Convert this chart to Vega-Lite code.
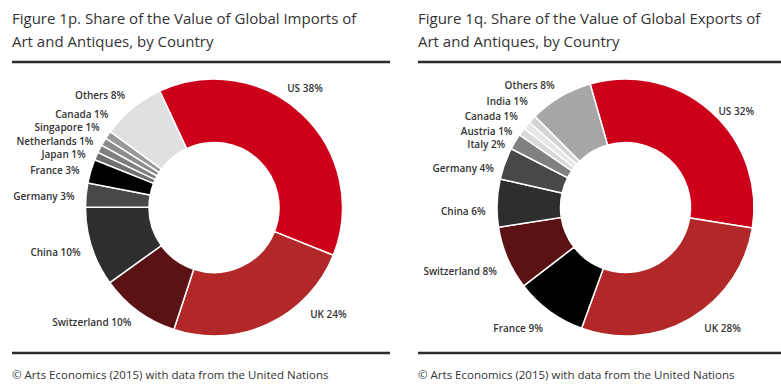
{
  "$schema": "https://vega.github.io/schema/vega-lite/v6.json",
  "padding": {"left": 10, "top": 10, "right": 0, "bottom": 0},
  "spacing": 24,
  "datasets": {
    "imports": [
      {"rank": 1, "country": "US", "share": 38, "label": "US 38%"},
      {"rank": 2, "country": "UK", "share": 24, "label": "UK 24%"},
      {"rank": 3, "country": "Switzerland", "share": 10, "label": "Switzerland 10%"},
      {"rank": 4, "country": "China", "share": 10, "label": "China 10%"},
      {"rank": 5, "country": "Germany", "share": 3, "label": "Germany 3%"},
      {"rank": 6, "country": "France", "share": 3, "label": "France 3%"},
      {"rank": 7, "country": "Japan", "share": 1, "label": "Japan 1%"},
      {"rank": 8, "country": "Netherlands", "share": 1, "label": "Netherlands 1%"},
      {"rank": 9, "country": "Singapore", "share": 1, "label": "Singapore 1%"},
      {"rank": 10, "country": "Canada", "share": 1, "label": "Canada 1%"},
      {"rank": 11, "country": "Others", "share": 8, "label": "Others 8%"}
    ],
    "exports": [
      {"rank": 1, "country": "US", "share": 32, "label": "US 32%"},
      {"rank": 2, "country": "UK", "share": 28, "label": "UK 28%"},
      {"rank": 3, "country": "France", "share": 9, "label": "France 9%"},
      {"rank": 4, "country": "Switzerland", "share": 8, "label": "Switzerland 8%"},
      {"rank": 5, "country": "China", "share": 6, "label": "China 6%"},
      {"rank": 6, "country": "Germany", "share": 4, "label": "Germany 4%"},
      {"rank": 7, "country": "Italy", "share": 2, "label": "Italy 2%"},
      {"rank": 8, "country": "Austria", "share": 1, "label": "Austria 1%"},
      {"rank": 9, "country": "Canada", "share": 1, "label": "Canada 1%"},
      {"rank": 10, "country": "India", "share": 1, "label": "India 1%"},
      {"rank": 11, "country": "Others", "share": 8, "label": "Others 8%"}
    ]
  },
  "resolve": {"scale": {"color": "independent", "theta": "independent"}},
  "hconcat": [
    {
      "title": {"text": "© Arts Economics (2015) with data from the United Nations", "orient": "bottom", "anchor": "start", "frame": "group", "fontSize": 11.5, "fontWeight": "normal", "color": "#333", "offset": 16},
      "vconcat": [
        {
          "title": {"text": ["Figure 1p. Share of the Value of Global Imports of", "Art and Antiques, by Country"], "anchor": "start", "frame": "group", "fontSize": 15, "fontWeight": "normal", "color": "#333", "lineHeight": 23, "offset": 12},
          "width": 378,
          "height": 291,
          "view": {"stroke": "#2b2b2b", "strokeWidth": 2.5, "strokeDash": [378, 291]},
          "data": {"name": "imports"},
          "encoding": {
            "theta": {"field": "share", "type": "quantitative", "stack": true, "scale": {"range": [-0.4363, 5.8469]}},
            "order": {"field": "rank", "type": "quantitative"},
            "detail": {"field": "country", "type": "nominal"}
          },
          "layer": [
            {
              "mark": {"type": "arc", "x": 202, "innerRadius": 65, "outerRadius": 128.5, "stroke": "white", "strokeWidth": 1.5},
              "encoding": {
                "color": {"field": "country", "type": "nominal", "legend": null,
                  "scale": {"domain": ["US", "UK", "Switzerland", "China", "Germany", "France", "Japan", "Netherlands", "Singapore", "Canada", "Others"],
                            "range": ["#cc0019", "#b22727", "#5a1214", "#2e2e2e", "#484848", "#000000", "#6f6f6f", "#7f7f7f", "#8c8c8c", "#999999", "#e0e0e2"]}}
              }
            },
            {
              "mark": {"type": "text", "x": 202, "radius": 140, "align": "right", "baseline": "middle", "dy": 3, "fontSize": 10, "fontWeight": 600, "color": "#333"},
              "encoding": {"text": {"condition": {"test": "indexof(['Switzerland','China','Germany','France'], datum.country) >= 0", "field": "label"}, "value": ""}}
            },
            {
              "mark": {"type": "text", "x": 202, "radius": 140, "align": "right", "baseline": "middle", "dy": 4, "fontSize": 10, "fontWeight": 600, "color": "#333"},
              "encoding": {"text": {"condition": {"test": "datum.country === 'Japan'", "field": "label"}, "value": ""}}
            },
            {
              "mark": {"type": "text", "x": 202, "radius": 140, "align": "right", "baseline": "middle", "dy": -3, "fontSize": 10, "fontWeight": 600, "color": "#333"},
              "encoding": {"text": {"condition": {"test": "datum.country === 'Others'", "field": "label"}, "value": ""}}
            },
            {
              "mark": {"type": "text", "x": 202, "radius": 140, "align": "left", "baseline": "middle", "dx": -23, "dy": -17, "fontSize": 10, "fontWeight": 600, "color": "#333"},
              "encoding": {"text": {"condition": {"test": "datum.country === 'US'", "field": "label"}, "value": ""}}
            },
            {
              "mark": {"type": "text", "x": 202, "radius": 140, "align": "left", "baseline": "middle", "dx": 37, "dy": -19, "fontSize": 10, "fontWeight": 600, "color": "#333"},
              "encoding": {"text": {"condition": {"test": "datum.country === 'UK'", "field": "label"}, "value": ""}}
            },
            {
              "mark": {"type": "text", "x": 202, "radius": 140, "align": "right", "baseline": "middle", "dx": 4, "dy": -2, "fontSize": 10, "fontWeight": 600, "color": "#333"},
              "encoding": {"text": {"condition": {"test": "datum.country === 'Netherlands'", "field": "label"}, "value": ""}}
            },
            {
              "mark": {"type": "text", "x": 202, "radius": 140, "align": "right", "baseline": "middle", "dx": 6, "dy": -8, "fontSize": 10, "fontWeight": 600, "color": "#333"},
              "encoding": {"text": {"condition": {"test": "datum.country === 'Singapore'", "field": "label"}, "value": ""}}
            },
            {
              "mark": {"type": "text", "x": 202, "radius": 140, "align": "right", "baseline": "middle", "dx": 10, "dy": -13, "fontSize": 10, "fontWeight": 600, "color": "#333"},
              "encoding": {"text": {"condition": {"test": "datum.country === 'Canada'", "field": "label"}, "value": ""}}
            }
          ]
        }
      ]
    },
    {
      "title": {"text": "© Arts Economics (2015) with data from the United Nations", "orient": "bottom", "anchor": "start", "frame": "group", "fontSize": 11.5, "fontWeight": "normal", "color": "#333", "offset": 16},
      "vconcat": [
        {
          "title": {"text": ["Figure 1q. Share of the Value of Global Exports of", "Art and Antiques, by Country"], "anchor": "start", "frame": "group", "fontSize": 15, "fontWeight": "normal", "color": "#333", "lineHeight": 23, "offset": 12},
          "width": 368,
          "height": 291,
          "view": {"stroke": "#2b2b2b", "strokeWidth": 2.5, "strokeDash": [368, 291]},
          "data": {"name": "exports"},
          "encoding": {
            "theta": {"field": "share", "type": "quantitative", "stack": true, "scale": {"range": [-0.2793, 6.0039]}},
            "order": {"field": "rank", "type": "quantitative"},
            "detail": {"field": "country", "type": "nominal"}
          },
          "layer": [
            {
              "mark": {"type": "arc", "x": 207.5, "innerRadius": 65, "outerRadius": 128.5, "stroke": "white", "strokeWidth": 1.5},
              "encoding": {
                "color": {"field": "country", "type": "nominal", "legend": null,
                  "scale": {"domain": ["US", "UK", "France", "Switzerland", "China", "Germany", "Italy", "Austria", "Canada", "India", "Others"],
                            "range": ["#cc0019", "#b22727", "#000000", "#5a1214", "#2e2e2e", "#484848", "#808080", "#d9d9d9", "#e6e6e6", "#d4d4d4", "#a6a6a6"]}}
              }
            },
            {
              "mark": {"type": "text", "x": 207.5, "radius": 140, "align": "left", "baseline": "middle", "dy": 9, "fontSize": 10, "fontWeight": 600, "color": "#333"},
              "encoding": {"text": {"condition": {"test": "datum.country === 'US'", "field": "label"}, "value": ""}}
            },
            {
              "mark": {"type": "text", "x": 207.5, "radius": 140, "align": "left", "baseline": "middle", "dx": 8, "dy": 1, "fontSize": 10, "fontWeight": 600, "color": "#333"},
              "encoding": {"text": {"condition": {"test": "datum.country === 'UK'", "field": "label"}, "value": ""}}
            },
            {
              "mark": {"type": "text", "x": 207.5, "radius": 140, "align": "right", "baseline": "middle", "dy": 9, "fontSize": 10, "fontWeight": 600, "color": "#333"},
              "encoding": {"text": {"condition": {"test": "indexof(['France','Switzerland','China','Germany','Italy'], datum.country) >= 0", "field": "label"}, "value": ""}}
            },
            {
              "mark": {"type": "text", "x": 207.5, "radius": 140, "align": "right", "baseline": "middle", "dy": -1, "fontSize": 10, "fontWeight": 600, "color": "#333"},
              "encoding": {"text": {"condition": {"test": "datum.country === 'Others'", "field": "label"}, "value": ""}}
            },
            {
              "mark": {"type": "text", "x": 207.5, "radius": 140, "align": "right", "baseline": "middle", "dy": 7, "fontSize": 10, "fontWeight": 600, "color": "#333"},
              "encoding": {"text": {"condition": {"test": "datum.country === 'Austria'", "field": "label"}, "value": ""}}
            },
            {
              "mark": {"type": "text", "x": 207.5, "radius": 140, "align": "right", "baseline": "middle", "dy": -1, "fontSize": 10, "fontWeight": 600, "color": "#333"},
              "encoding": {"text": {"condition": {"test": "datum.country === 'Canada'", "field": "label"}, "value": ""}}
            },
            {
              "mark": {"type": "text", "x": 207.5, "radius": 140, "align": "right", "baseline": "middle", "dx": 4, "dy": -9, "fontSize": 10, "fontWeight": 600, "color": "#333"},
              "encoding": {"text": {"condition": {"test": "datum.country === 'India'", "field": "label"}, "value": ""}}
            }
          ]
        }
      ]
    }
  ],
  "config": {"view": {"stroke": null}, "font": "Open Sans"}
}
